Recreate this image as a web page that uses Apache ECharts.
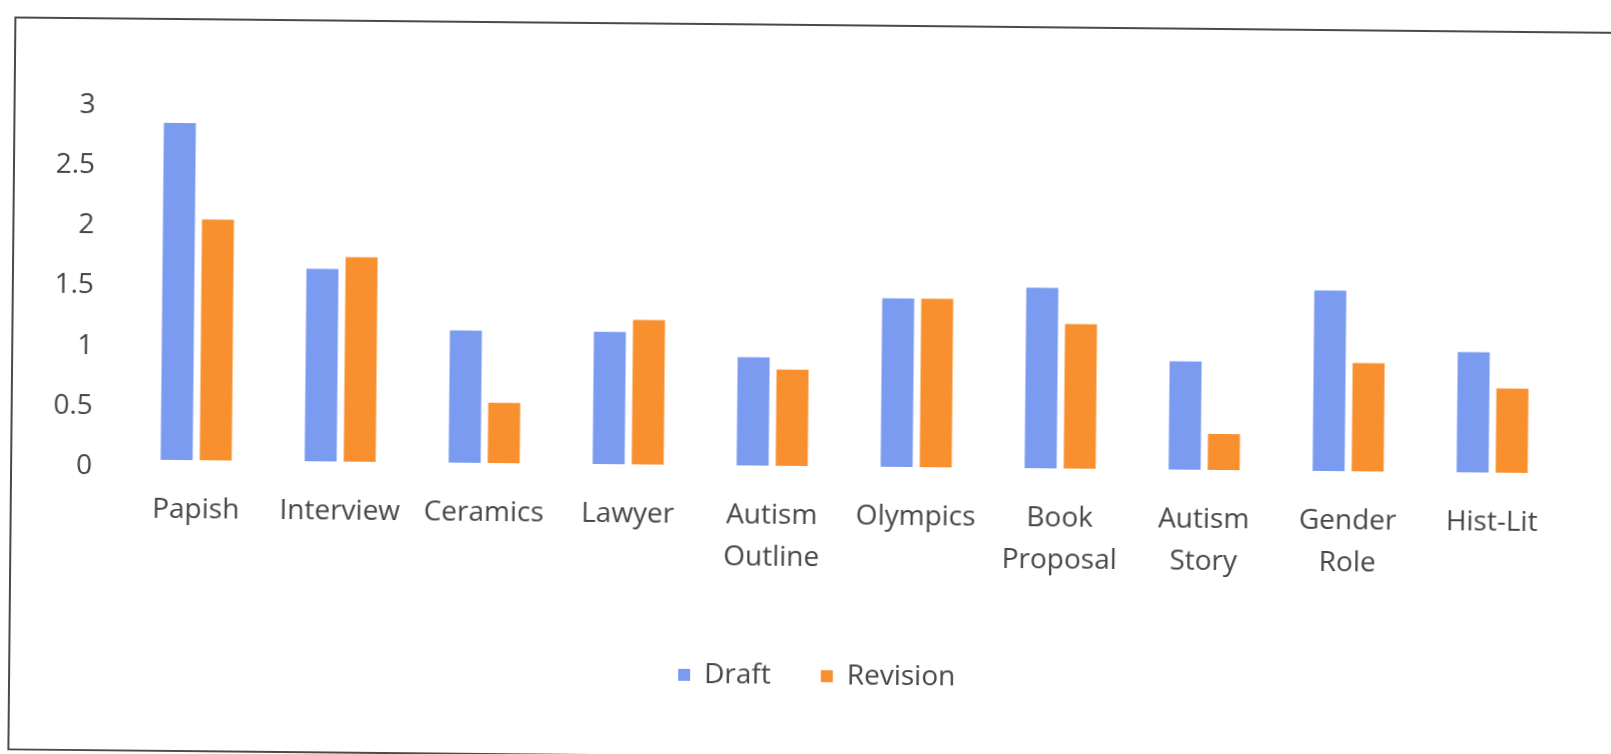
<!DOCTYPE html>
<html>
<head>
<meta charset="utf-8">
<title>Draft vs Revision</title>
<script src="https://cdn.jsdelivr.net/npm/echarts@6/dist/echarts.min.js"></script>
<style>
  html, body { margin: 0; padding: 0; background: #ffffff; overflow: hidden; }
  #wrap {
    position: absolute; left: 0; top: 0; width: 1611px; height: 754px;
    transform: rotate(0.55deg); transform-origin: 805px 377px;
  }
  #frame {
    position: absolute; left: 11px; top: 24px; width: 1700px; height: 734px;
    border: 2px solid #4a4a4a; box-sizing: border-box;
  }
  #chart { position: absolute; left: 0; top: 0; width: 1611px; height: 754px; }
</style>
</head>
<body>
<div id="wrap">
  <div id="frame"></div>
  <div id="chart"></div>
</div>
<script>
// Categories (essay assignments)
const categories = [
  'Papish', 'Interview', 'Ceramics', 'Lawyer', 'Autism\nOutline',
  'Olympics', 'Book\nProposal', 'Autism\nStory', 'Gender\nRole', 'Hist-Lit'
];
// Series values
const draftValues    = [2.8, 1.6, 1.1, 1.1, 0.9, 1.4, 1.5, 0.9, 1.5, 1.0];
const revisionValues = [2.0, 1.7, 0.5, 1.2, 0.8, 1.4, 1.2, 0.3, 0.9, 0.7];
// Value axis range
const yMin = 0;
const yMax = 3;
const yStep = 0.5;

const FONT = '"Open Sans", "Noto Sans", sans-serif';
const TEXT_COLOR = '#464646';

const chart = echarts.init(document.getElementById('chart'), null, { renderer: 'canvas' });

chart.setOption({
  backgroundColor: 'transparent',
  animation: false,
  grid: { left: 125, right: 46, top: 105, bottom: 288, containLabel: false },
  legend: {
    data: ['Draft', 'Revision'],
    left: 676,
    top: 656,
    icon: 'rect',
    itemWidth: 12,
    itemHeight: 12,
    itemGap: 50,
    textStyle: {
      fontFamily: FONT, fontSize: 28, color: TEXT_COLOR,
      padding: [0, 0, 0, 9], lineHeight: 30
    }
  },
  xAxis: {
    type: 'category',
    data: categories,
    axisLine: { show: false },
    axisTick: { show: false },
    splitLine: { show: false },
    axisLabel: {
      interval: 0,
      margin: 29,
      fontFamily: FONT,
      fontSize: 28,
      lineHeight: 42,
      color: TEXT_COLOR
    }
  },
  yAxis: {
    type: 'value',
    min: yMin,
    max: yMax,
    interval: yStep,
    axisLine: { show: false },
    axisTick: { show: false },
    splitLine: { show: false },
    axisLabel: {
      margin: 32,
      fontFamily: FONT,
      fontSize: 28,
      color: TEXT_COLOR,
      // tick text sits a few pixels below its value level
      verticalAlign: 'top',
      lineHeight: 14
    }
  },
  series: [
    {
      name: 'Draft',
      type: 'bar',
      data: draftValues,
      barWidth: 32,
      barGap: '22%',
      itemStyle: { color: '#7b9bf0' }
    },
    {
      name: 'Revision',
      type: 'bar',
      data: revisionValues,
      barWidth: 32,
      barGap: '22%',
      itemStyle: { color: '#f99030' }
    }
  ]
});
</script>
</body>
</html>
